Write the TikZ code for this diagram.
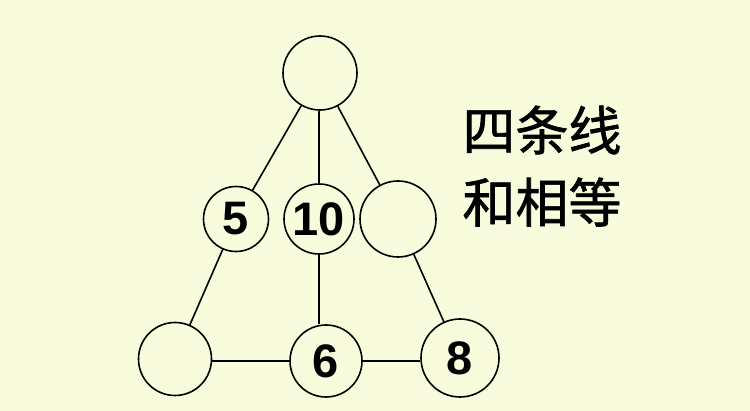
\documentclass[tikz,border=0pt]{standalone}
\usepackage{fontspec}
\setmainfont{Liberation Sans}
\newfontfamily\cjk[FakeBold=1.2]{Noto Sans CJK SC}
\definecolor{paper}{HTML}{F8FBDC}
\tikzset{
	ball/.style={circle, draw, line width=1.6pt, fill=paper, minimum size=#1, inner sep=0pt,
		font=\bfseries\fontsize{47}{47}\selectfont},
	ball/.default=72pt,
	wire/.style={line width=1.6pt},
	motto/.style={font=\cjk\fontsize{53}{53}\selectfont}
}
\begin{document}
\begin{tikzpicture}[x=1pt,y=-1pt]
	%background
		\fill[paper] (0,0) rectangle (750,411);
		\useasboundingbox (0,0) rectangle (750,411);
	%circles
		\node[ball=74pt] (top) at (320,73) {};
		\node[ball=65pt] (five) at (236,219) {5};
		\node[ball=70pt] (ten) at (319,219) {10};
		\node[ball=76pt] (right) at (398,219) {};
		\node[ball=73pt] (bl) at (175,359) {};
		\node[ball=72pt] (six) at (326,361) {6};
		\node[ball=78pt] (eight) at (460,358) {8};
	%lines
		\draw[wire] (top) -- (five);
		\draw[wire] (ten |- top.south) -- (ten);
		\draw[wire] (top) -- (right);
		\draw[wire] (five) -- (bl);
		\draw[wire] (ten) -- (ten |- six.north);
		\draw[wire] (right) -- (eight);
		\draw[wire] (bl.east |- six) -- (six);
		\draw[wire] (six) -- (eight.west |- six);
	%text
		\node[motto] (row1) at (542,130) {四条线};
		\node[motto] (row2) at (542,202) {和相等};
\end{tikzpicture}
\end{document}
